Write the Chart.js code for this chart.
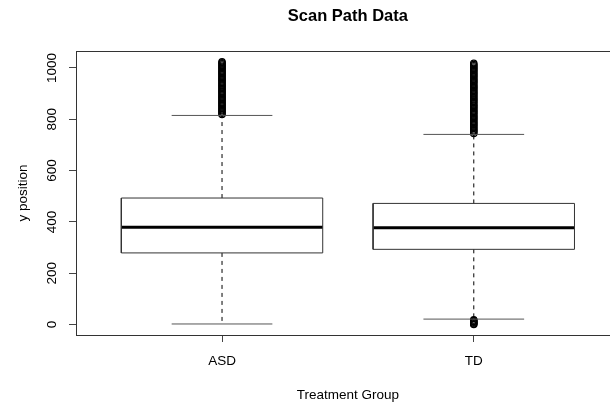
<!DOCTYPE html>
<html>
<head>
<meta charset="utf-8">
<script src="https://cdn.jsdelivr.net/npm/chart.js@4/dist/chart.umd.min.js"></script>
<style>
  html, body { margin: 0; padding: 0; overflow: hidden; background: #fff; }
  #wrap { width: 610px; height: 405px; overflow: hidden; position: relative; }
  #scan-path { display: block; width: 625px; height: 405px; }
</style>
</head>
<body>
<div id="wrap"><canvas id="scan-path" width="625" height="405"></canvas></div>
<script>
// values
const groups = ['ASD', 'TD'];
const lowerWhisker = [2, 21];
const lowerQuartile = [279, 293];
const medians = [379, 377];
const upperQuartile = [493, 472];
const upperWhisker = [815, 741];
const yTicks = [0, 200, 400, 600, 800, 1000];

// outliers form solid columns in the picture
const asdOutliers = [819, 824, 829, 834, 838, 843, 848, 853, 858, 862, 867, 872, 877, 882, 886, 891, 896, 901,
  906, 910, 915, 920, 925, 930, 934, 939, 944, 949, 954, 958, 963, 968, 973, 978, 982, 987, 992, 997,
  1002, 1006, 1011, 1016, 1020, 1024];
const tdOutliers = [745, 750, 755, 759, 764, 769, 774, 779, 783, 788, 793, 798, 803, 807, 812, 817, 822,
  827, 831, 836, 841, 846, 851, 855, 860, 865, 870, 875, 879, 884, 889, 894, 899, 903, 908, 913, 918,
  923, 927, 932, 937, 942, 947, 951, 956, 961, 966, 971, 975, 980, 985, 990, 995, 999, 1004, 1009,
  1013, 1018, 0, 3, 6, 9, 12, 15, 18];
const outliers = [asdOutliers, tdOutliers];

document.addEventListener('DOMContentLoaded', () => {
    main();
});

function main() {
    const font = "'Liberation Sans', Arial, Helvetica, sans-serif";
    const datasets = [];
    const line = (data, extra) => Object.assign({
        type: 'line', data: data, showLine: true, fill: false,
        borderColor: '#000', borderWidth: 1, pointRadius: 0, tension: 0
    }, extra || {});

    groups.forEach((g, i) => {
        const x = i + 1;
        // box
        datasets.push(line([
            {x: x - 0.4, y: lowerQuartile[i]}, {x: x + 0.4, y: lowerQuartile[i]},
            {x: x + 0.4, y: upperQuartile[i]}, {x: x - 0.4, y: upperQuartile[i]},
            {x: x - 0.4, y: lowerQuartile[i]}
        ], {borderColor: '#333'}));
        // median
        datasets.push(line([{x: x - 0.4, y: medians[i]}, {x: x + 0.4, y: medians[i]}], {borderWidth: 3}));
        // whiskers
        datasets.push(line([{x: x, y: upperQuartile[i]}, {x: x, y: upperWhisker[i]}], {borderDash: [4, 4]}));
        datasets.push(line([{x: x, y: lowerQuartile[i]}, {x: x, y: lowerWhisker[i]}], {borderDash: [4, 4]}));
        // staples
        datasets.push(line([{x: x - 0.2, y: upperWhisker[i]}, {x: x + 0.2, y: upperWhisker[i]}], {borderColor: '#555'}));
        datasets.push(line([{x: x - 0.2, y: lowerWhisker[i]}, {x: x + 0.2, y: lowerWhisker[i]}], {borderColor: '#555'}));
        // outliers
        datasets.push({
            type: 'scatter',
            data: outliers[i].map(v => ({x: x, y: v})),
            pointRadius: 3.2,
            pointBorderWidth: 1.2,
            pointBorderColor: '#000',
            pointBackgroundColor: 'rgba(0,0,0,0)'
        });
    });

    const frame = {
        id: 'frame',
        afterDatasetsDraw(chart) {
            const {ctx, chartArea: a} = chart;
            ctx.save();
            ctx.strokeStyle = '#333';
            ctx.lineWidth = 1;
            ctx.strokeRect(Math.round(a.left) + 0.5, Math.round(a.top) + 0.5,
                Math.round(a.right - a.left), Math.round(a.bottom - a.top));
            ctx.restore();
        }
    };

    const ctx = document.querySelector('#scan-path').getContext('2d');
    new Chart(ctx, {
        type: 'scatter',
        data: {datasets: datasets},
        plugins: [frame],
        options: {
            responsive: false,
            animation: false,
            layout: {padding: 0},
            plugins: {
                legend: {display: false},
                tooltip: {enabled: false},
                title: {
                    display: true,
                    text: 'Scan Path Data',
                    fullSize: false,
                    color: '#000',
                    font: {family: font, size: 16.5, weight: 'bold'},
                    padding: {top: 7, bottom: 24}
                }
            },
            scales: {
                x: {
                    type: 'linear',
                    min: 0.42,
                    max: 2.58,
                    afterBuildTicks: s => { s.ticks = groups.map((g, i) => ({value: i + 1})); },
                    afterFit: s => { s.height = 70; s.paddingLeft = 0; s.paddingRight = 0; },
                    grid: {drawOnChartArea: false, drawTicks: true, tickLength: 7, color: '#444'},
                    border: {display: false},
                    ticks: {
                        color: '#000',
                        font: {family: font, size: 13.5},
                        padding: 11,
                        maxRotation: 0,
                        autoSkip: false,
                        callback: v => groups[v - 1]
                    },
                    title: {
                        display: true,
                        text: 'Treatment Group',
                        color: '#000',
                        font: {family: font, size: 13.5},
                        padding: {top: 0, bottom: 2}
                    }
                },
                y: {
                    min: -41,
                    max: 1067,
                    afterBuildTicks: s => { s.ticks = yTicks.map(v => ({value: v})); },
                    afterFit: s => { s.width = 76; s.paddingTop = 0; s.paddingBottom = 0; },
                    grid: {drawOnChartArea: false, drawTicks: true, tickLength: 7, color: '#444'},
                    border: {display: false},
                    ticks: {
                        color: '#000',
                        font: {family: font, size: 13.5},
                        padding: 2,
                        minRotation: 90,
                        maxRotation: 90,
                        crossAlign: 'center',
                        autoSkip: false,
                        callback: v => String(v)
                    },
                    title: {
                        display: true,
                        text: 'y position',
                        color: '#000',
                        font: {family: font, size: 13.5},
                        padding: {top: 15, bottom: 0}
                    }
                }
            }
        }
    });
}
</script>
</body>
</html>
